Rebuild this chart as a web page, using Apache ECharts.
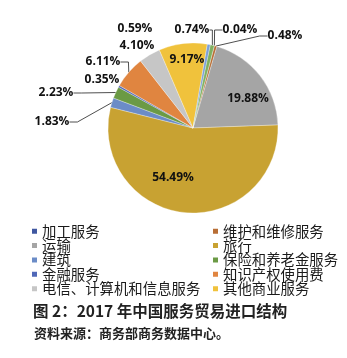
<!DOCTYPE html>
<html>
<head>
<meta charset="utf-8">
<script src="https://cdn.jsdelivr.net/npm/echarts@6/dist/echarts.min.js"></script>
<style>
html,body{margin:0;padding:0;background:#fff;}
#c{width:347px;height:358px;}
</style>
</head>
<body>
<div id="c"></div>
<script>
// ---- data ----
const categories = ['加工服务', '维护和维修服务', '运输', '旅行', '建筑', '保险和养老金服务',
  '金融服务', '知识产权使用费', '电信、计算机和信息服务', '其他商业服务',
  '个人、文化和娱乐服务', '别处未提及的政府服务'];
const values = [0.04, 0.48, 19.88, 54.49, 1.83, 2.23, 0.35, 6.11, 4.10, 9.17, 0.59, 0.74];
const legendLeftItems = ['加工服务', '运输', '建筑', '金融服务', '电信、计算机和信息服务'];
const legendRightItems = ['维护和维修服务', '旅行', '保险和养老金服务', '知识产权使用费', '其他商业服务'];
const titleText = '图 2：2017 年中国服务贸易进口结构';
const sourceText = '资料来源：商务部商务数据中心。';

// ---- styles ----
const colors = ['#3f57a0', '#b86e35', '#a5a5a5', '#c8a232', '#6b8cc7', '#6b9a45',
  '#5068b8', '#e08540', '#c6c6c6', '#f0c23c', '#7ca0d8', '#7fb060'];
// label anchor positions (pixels) and whether to draw a leader line
const labelPos = {
  0: [240, 30], 1: [285, 36], 2: [248, 99], 3: [173, 178], 4: [52, 122],
  5: [56, 93], 6: [102, 80], 7: [103, 62], 8: [137, 46], 9: [187, 60],
  10: [135, 29], 11: [192, 30]
};
const lineOn = {0: true, 1: true, 4: true, 5: true, 7: true, 11: true};
const insideIdx = {2: true, 3: true, 9: true};

const chart = echarts.init(document.getElementById('c'), null, {renderer: 'canvas'});
const cjk = '"Noto Sans CJK SC", sans-serif';

const data = categories.map((n, i) => ({
  name: n,
  value: values[i],
  itemStyle: {color: colors[i]},
  label: {position: insideIdx[i] ? 'inside' : 'outside'},
  labelLine: {show: !!lineOn[i], length: 8, length2: 8}
}));

const legendCommon = {
  orient: 'vertical',
  top: 224,
  itemWidth: 7,
  itemHeight: 7,
  itemGap: 0,
  icon: 'rect',
  textStyle: {fontFamily: cjk, fontSize: 14.4, color: '#1a1a1a', lineHeight: 13.2, padding: [0, 0, 0, -1]},
  padding: 0
};

chart.setOption({
  animation: false,
  backgroundColor: '#fff',
  title: [
    {text: titleText, left: 33, top: 303, padding: 0,
     textStyle: {fontFamily: cjk, fontSize: 15.5, fontWeight: 'bold', color: '#222'}},
    {text: sourceText, left: 34, top: 327, padding: 0,
     textStyle: {fontFamily: cjk, fontSize: 13, fontWeight: 'bold', color: '#222'}}
  ],
  legend: [
    Object.assign({left: 30, data: legendLeftItems}, legendCommon),
    Object.assign({left: 211, data: legendRightItems}, legendCommon)
  ],
  series: [{
    type: 'pie',
    center: [193, 128],
    radius: [0, 85],
    startAngle: 75.5,
    clockwise: true,
    avoidLabelOverlap: false,
    minShowLabelAngle: 0,
    itemStyle: {borderColor: '#fff', borderWidth: 0.3},
    label: {
      show: true,
      formatter: p => p.value.toFixed(2) + '%',
      fontFamily: '"Open Sans", sans-serif',
      fontWeight: 'bold',
      fontSize: 12,
      color: '#111'
    },
    labelLine: {lineStyle: {color: '#222', width: 0.8}, smooth: false},
    labelLayout: function (params) {
      const p = labelPos[params.dataIndex];
      return {x: p[0], y: p[1], align: 'center', verticalAlign: 'middle'};
    },
    data: data
  }]
});
</script>
</body>
</html>
